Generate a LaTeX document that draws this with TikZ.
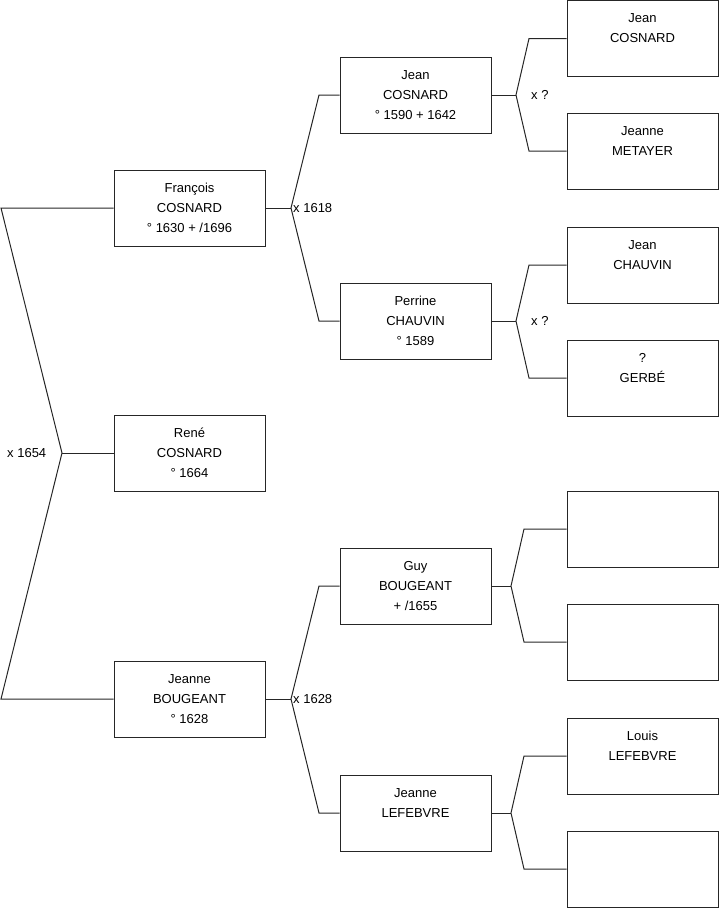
\documentclass[tikz,border=0pt]{standalone}
\usepackage{fontspec}
\setmainfont{Liberation Sans}
\begin{document}
\begin{tikzpicture}[x=1pt,y=-1pt,
 person/.style={draw=black!85, line width=1pt, minimum width=151pt, minimum height=76pt, inner sep=0pt, align=center, font=\fontsize{13}{20}\selectfont},
 link/.style={draw=black!85, line width=1pt},
 lbl/.style={anchor=west, inner sep=0pt, font=\fontsize{13}{16}\selectfont}]
\useasboundingbox (0,0) rectangle (719,908);
% generation 1
\node[person] (g1a) at (189.5,208) {François\\COSNARD\\° 1630 + /1696};
\node[person] (g1b) at (189.5,453) {René\\COSNARD\\° 1664};
\node[person] (g1c) at (189.5,699) {Jeanne\\BOUGEANT\\° 1628};
% generation 2
\node[person] (g2a) at (415.5,95) {Jean\\COSNARD\\° 1590 + 1642};
\node[person] (g2b) at (415.5,321) {Perrine\\CHAUVIN\\° 1589};
\node[person] (g2c) at (415.5,586) {Guy\\BOUGEANT\\+ /1655};
\node[person] (g2d) at (415.5,813) {Jeanne\\LEFEBVRE\\\mbox{}};
% generation 3
\node[person] (g3a) at (642.5,38.5) {Jean\\COSNARD\\\mbox{}};
\node[person] (g3b) at (642.5,151) {Jeanne\\METAYER\\\mbox{}};
\node[person] (g3c) at (642.5,265) {Jean\\CHAUVIN\\\mbox{}};
\node[person] (g3d) at (642.5,378) {?\\GERBÉ\\\mbox{}};
\node[person] (g3e) at (642.5,529) {};
\node[person] (g3f) at (642.5,642) {};
\node[person] (g3g) at (642.5,756) {Louis\\LEFEBVRE\\\mbox{}};
\node[person] (g3h) at (642.5,869) {};
% junction points
\coordinate (L0t) at (1,208);
\coordinate (L0m) at (62,453);
\coordinate (L0b) at (1,699);
\coordinate (M1) at (291,208);
\coordinate (M1t) at (319,95);
\coordinate (M1b) at (319,321);
\coordinate (M2) at (291,699);
\coordinate (M2t) at (319,586);
\coordinate (M2b) at (319,813);
\coordinate (N1) at (516,95);
\coordinate (N1t) at (529,38.5);
\coordinate (N1b) at (529,151);
\coordinate (N2) at (516,321);
\coordinate (N2t) at (529,265);
\coordinate (N2b) at (529,378);
\coordinate (N3) at (511,586);
\coordinate (N3t) at (524,529);
\coordinate (N3b) at (524,642);
\coordinate (N4) at (511,813);
\coordinate (N4t) at (524,756);
\coordinate (N4b) at (524,869);
% connectors
\draw[link] (g1a.west) -- (L0t) -- (L0m) -- (L0b) -- (g1c.west);
\draw[link] (L0m) -- (g1b.west);
\draw[link] (g2a.west) -- (M1t) -- (M1) -- (M1b) -- (g2b.west);
\draw[link] (g1a.east) -- (M1);
\draw[link] (g2c.west) -- (M2t) -- (M2) -- (M2b) -- (g2d.west);
\draw[link] (g1c.east) -- (M2);
\draw[link] (g3a.west) -- (N1t) -- (N1) -- (N1b) -- (g3b.west);
\draw[link] (g2a.east) -- (N1);
\draw[link] (g3c.west) -- (N2t) -- (N2) -- (N2b) -- (g3d.west);
\draw[link] (g2b.east) -- (N2);
\draw[link] (g3e.west) -- (N3t) -- (N3) -- (N3b) -- (g3f.west);
\draw[link] (g2c.east) -- (N3);
\draw[link] (g3g.west) -- (N4t) -- (N4) -- (N4b) -- (g3h.west);
\draw[link] (g2d.east) -- (N4);
% labels
\node[lbl] (x0) at (7,453) {x 1654};
\node[lbl] (x1) at (293,208) {x 1618};
\node[lbl] (x2) at (293,699) {x 1628};
\node[lbl] (x3) at (531,95) {x ?};
\node[lbl] (x4) at (531,321) {x ?};
\end{tikzpicture}
\end{document}
